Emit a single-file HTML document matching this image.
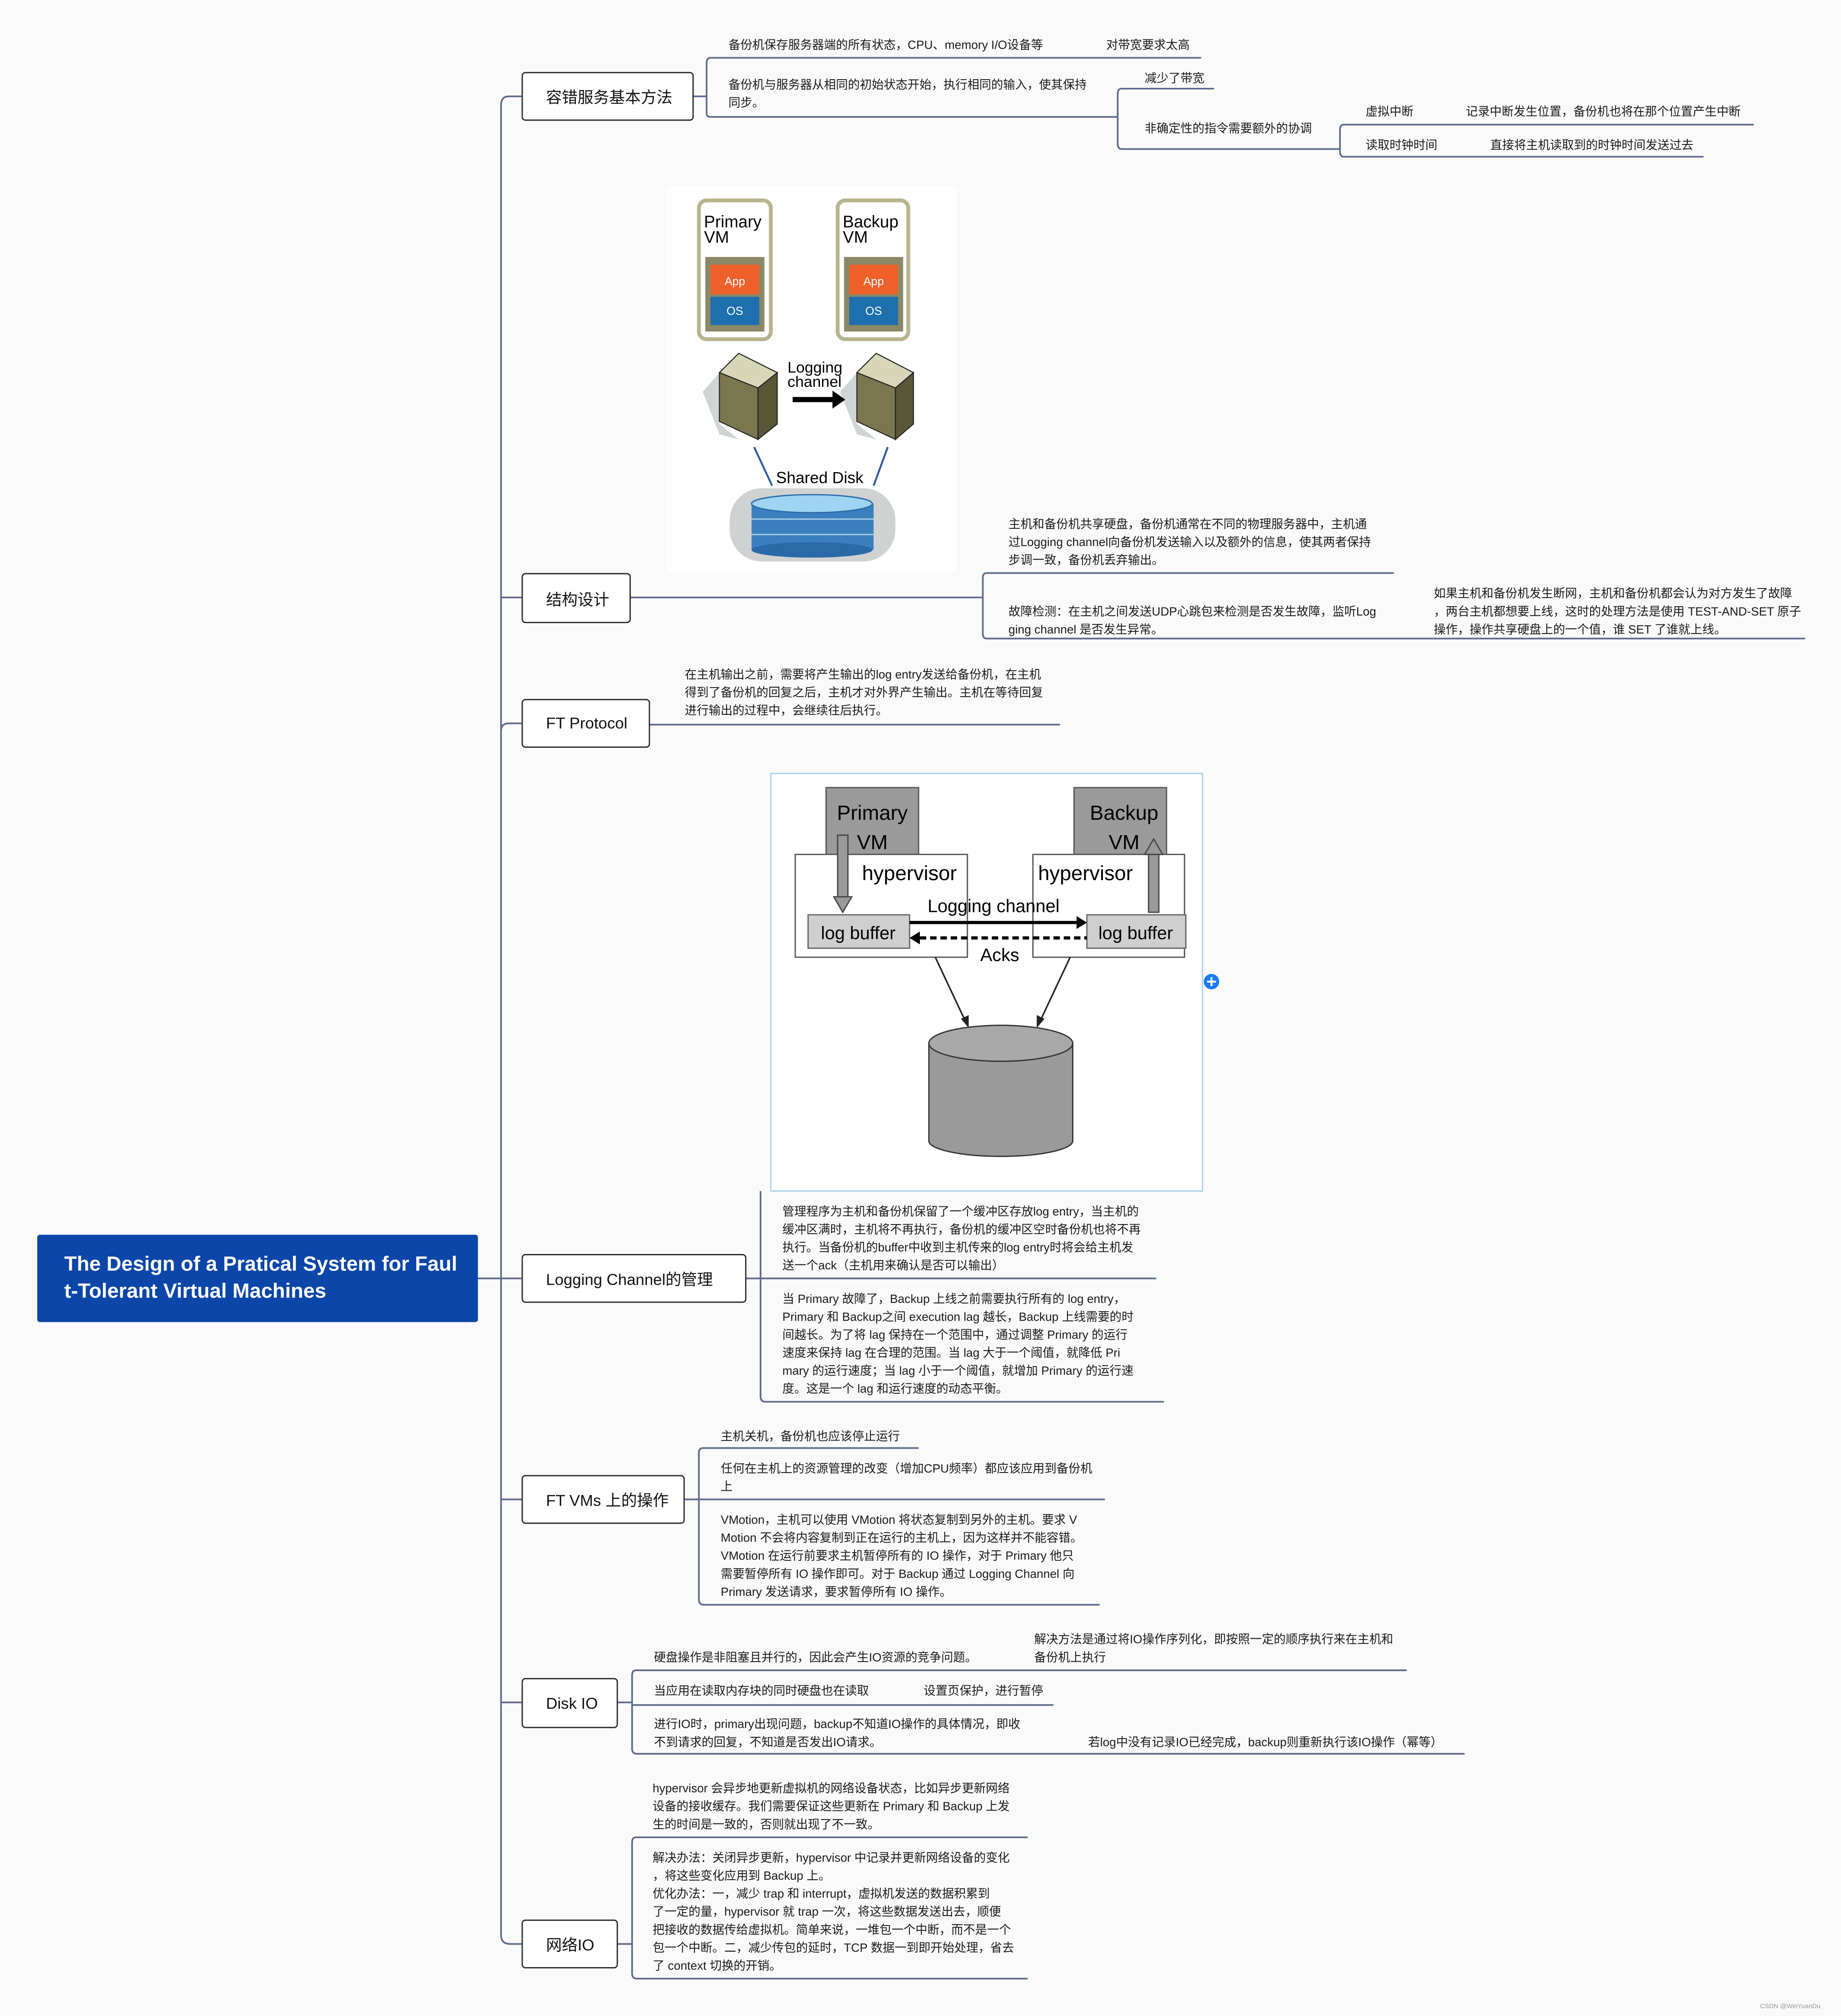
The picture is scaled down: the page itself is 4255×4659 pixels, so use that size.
<!DOCTYPE html>
<html><head><meta charset="utf-8">
<style>
html,body{margin:0;padding:0;background:#fafafa;}
body{width:4255px;height:4656px;overflow:hidden;position:relative;}
#w{position:absolute;left:0;top:0;width:1433px;height:1568px;transform:scale(2.9693);transform-origin:0 0;font-family:"Liberation Sans","Noto Sans CJK SC",sans-serif;color:#222;}
.t{position:absolute;font-size:9.3px;line-height:14px;white-space:nowrap;color:#1a1a1a;}
.n{position:absolute;background:#fff;border:1.6px solid #2a2a2a;border-radius:3px;box-sizing:border-box;font-size:12.3px;display:flex;align-items:center;padding-left:18px;color:#111;}
svg{position:absolute;left:0;top:0;}
</style></head><body><div id="w">
<svg width="1433" height="1568" viewBox="0 0 1433 1568">
<g fill="none" stroke="#5d6b8c" stroke-width="1.3">
<path d="M406,75 H396 Q390,75 390,82 V1506 Q390,1513 397,1513 H406"/>
<path d="M390,465 Q390,465 396,465 H406"/>
<path d="M390,569 Q390,563 396,563 H406"/>
<path d="M390,995 H406"/>
<path d="M372,995 H390"/>
<path d="M390,1167 H406"/>
<path d="M390,1325 H406"/>
<path d="M540,75 H550"/>
<path d="M935,45 H553 Q550,45 550,49 V88 Q550,91 553,91 H870"/>
<path d="M945,69 H873 Q870,69 870,73 V112 Q870,116 873,116 H1043"/>
<path d="M1365,97 H1046 Q1043,97 1043,101 V118 Q1043,122 1046,122 H1326"/>
<path d="M491,465 H765"/>
<path d="M1085,446 H768 Q765,446 765,450 V493 Q765,497 768,497 H1405"/>
<path d="M506,564 H825"/>
<path d="M581,995 H592"/>
<path d="M592,927 V1087 Q592,1091 596,1091 H906"/>
<path d="M592,995 H900"/>
<path d="M533,1167 H544"/>
<path d="M715,1127 H547 Q544,1127 544,1131 V1245 Q544,1249 548,1249 H856"/>
<path d="M544,1167 H860"/>
<path d="M481,1325 H492"/>
<path d="M1095,1300 H495 Q492,1300 492,1304 V1361 Q492,1365 496,1365 H1140"/>
<path d="M492,1327 H820"/>
<path d="M481,1513 H492"/>
<path d="M800,1430 H495 Q492,1430 492,1434 V1536 Q492,1540 496,1540 H800"/>
</g>
<rect x="519" y="145" width="226" height="300" fill="#fefefe"/>
<g>
<rect x="544" y="156" width="56" height="108" rx="6" fill="#fff" stroke="#b8b48e" stroke-width="3"/>
<rect x="549" y="200" width="46" height="58" fill="#8a8866"/>
<rect x="553" y="206" width="38" height="23" fill="#f0602a"/>
<rect x="553" y="231" width="38" height="22" fill="#1d6fae"/>
<text x="572" y="222" font-size="9" fill="#fff" text-anchor="middle" font-family="Liberation Sans">App</text>
<text x="572" y="245" font-size="9" fill="#fff" text-anchor="middle" font-family="Liberation Sans">OS</text>
<text x="548" y="177" font-size="13" font-family="Liberation Sans">Primary</text>
<text x="548" y="189" font-size="13" font-family="Liberation Sans">VM</text>
<rect x="652" y="156" width="55" height="108" rx="6" fill="#fff" stroke="#b8b48e" stroke-width="3"/>
<rect x="657" y="200" width="46" height="58" fill="#8a8866"/>
<rect x="661" y="206" width="38" height="23" fill="#f0602a"/>
<rect x="661" y="231" width="38" height="22" fill="#1d6fae"/>
<text x="680" y="222" font-size="9" fill="#fff" text-anchor="middle" font-family="Liberation Sans">App</text>
<text x="680" y="245" font-size="9" fill="#fff" text-anchor="middle" font-family="Liberation Sans">OS</text>
<text x="656" y="177" font-size="13" font-family="Liberation Sans">Backup</text>
<text x="656" y="189" font-size="13" font-family="Liberation Sans">VM</text>
<polygon points="547,305 560,290 560,330 575,342 560,338" fill="#d0d4d4"/>
<polygon points="560,290 575,275 605,290 590,302" fill="#d8d6b8" stroke="#222" stroke-width="0.8"/>
<polygon points="560,290 590,302 590,342 560,328" fill="#7a7650" stroke="#222" stroke-width="0.8"/>
<polygon points="590,302 605,290 605,330 590,342" fill="#5a5638" stroke="#222" stroke-width="0.8"/>
<polygon points="654,305 667,290 667,330 682,342 667,338" fill="#d0d4d4"/>
<polygon points="667,290 682,275 711,290 697,302" fill="#d8d6b8" stroke="#222" stroke-width="0.8"/>
<polygon points="667,290 697,302 697,342 667,328" fill="#7a7650" stroke="#222" stroke-width="0.8"/>
<polygon points="697,302 711,290 711,330 697,342" fill="#5a5638" stroke="#222" stroke-width="0.8"/>
<text x="613" y="290" font-size="12" font-family="Liberation Sans">Logging</text>
<text x="613" y="301" font-size="12" font-family="Liberation Sans">channel</text>
<path d="M617,311 H648" stroke="#000" stroke-width="4"/>
<polygon points="648,304 658,311 648,318" fill="#000"/>
<path d="M587,348 L601,378 M691,348 L680,378" stroke="#2e5aa8" stroke-width="1.5"/>
<text x="604" y="376" font-size="12.5" font-family="Liberation Sans">Shared Disk</text>
<rect x="568" y="380" width="129" height="57" rx="25" fill="#d0d2d2"/>
<rect x="585" y="392" width="95" height="36" fill="#3a80c0"/>
<ellipse cx="632" cy="428" rx="47" ry="6" fill="#2a6aa8"/>
<ellipse cx="632" cy="392" rx="47" ry="7" fill="#9fd4f2" stroke="#2a6aa8"/>
<path d="M585,404 H680 M585,416 H680" stroke="#a8cce8" stroke-width="1"/>
</g>
<rect x="600" y="602" width="336" height="325" fill="#fff" stroke="#a8d0f0" stroke-width="1"/>
<g font-family="Liberation Sans">
<rect x="643" y="613" width="72" height="52" fill="#9a9a9a" stroke="#555"/>
<text x="679" y="638" font-size="16" text-anchor="middle">Primary</text>
<text x="679" y="661" font-size="16" text-anchor="middle">VM</text>
<rect x="619" y="665" width="134" height="80" fill="#fff" stroke="#555"/>
<text x="671" y="685" font-size="16">hypervisor</text>
<rect x="629" y="712" width="79" height="26" fill="#cfcfcf" stroke="#666"/>
<text x="668" y="731" font-size="14" text-anchor="middle">log buffer</text>
<rect x="836" y="613" width="72" height="52" fill="#9a9a9a" stroke="#555"/>
<text x="875" y="638" font-size="16" text-anchor="middle">Backup</text>
<text x="875" y="661" font-size="16" text-anchor="middle">VM</text>
<rect x="804" y="665" width="118" height="80" fill="#fff" stroke="#555"/>
<text x="808" y="685" font-size="16">hypervisor</text>
<rect x="846" y="712" width="77" height="26" fill="#cfcfcf" stroke="#666"/>
<text x="884" y="731" font-size="14" text-anchor="middle">log buffer</text>
<rect x="652" y="650" width="8" height="48" fill="#999" stroke="#444"/>
<polygon points="649,698 663,698 656,710" fill="#999" stroke="#444"/>
<rect x="894" y="665" width="8" height="45" fill="#999" stroke="#444"/>
<polygon points="891,665 905,665 898,653" fill="#999" stroke="#444"/>
<text x="722" y="710" font-size="14">Logging channel</text>
<path d="M708,718 H838" stroke="#000" stroke-width="2.5"/>
<polygon points="838,713 846,718 838,723" fill="#000"/>
<path d="M716,730 H846" stroke="#000" stroke-width="2.5" stroke-dasharray="5,3"/>
<polygon points="716,725 708,730 716,735" fill="#000"/>
<text x="763" y="748" font-size="14">Acks</text>
<path d="M728,745 L752,796 M833,745 L809,796" stroke="#222" stroke-width="1.2"/>
<polygon points="748,793 754,800 754,790" fill="#222"/>
<polygon points="807,790 807,800 813,793" fill="#222"/>
<path d="M723,812 V888 A56,12 0 0 0 835,888 V812" fill="#9a9a9a" stroke="#333"/>
<ellipse cx="779" cy="812" rx="56" ry="14" fill="#a8a8a8" stroke="#333"/>
</g>
<circle cx="943" cy="764" r="6" fill="#1a7cf0"/>
<path d="M939.5,764 H946.5 M943,760.5 V767.5" stroke="#fff" stroke-width="1.5"/>
</svg>

<div class="n" style="left:29px;top:961px;width:343px;height:68px;background:#0b46a8;border:none;border-radius:2px;color:#fff;font-weight:bold;font-size:16px;line-height:21px;padding-left:21px;">The Design of a Pratical System for Faul<br>t-Tolerant Virtual Machines</div>
<div class="n" style="left:406px;top:56px;width:134px;height:38px;">容错服务基本方法</div>
<div class="n" style="left:406px;top:446px;width:85px;height:39px;">结构设计</div>
<div class="n" style="left:406px;top:544px;width:100px;height:38px;">FT Protocol</div>
<div class="n" style="left:406px;top:976px;width:175px;height:38px;">Logging Channel的管理</div>
<div class="n" style="left:406px;top:1148px;width:127px;height:38px;">FT VMs 上的操作</div>
<div class="n" style="left:406px;top:1306px;width:75px;height:39px;">Disk IO</div>
<div class="n" style="left:406px;top:1494px;width:75px;height:38px;">网络IO</div>

<div class="t" style="left:567px;top:28px;">备份机保存服务器端的所有状态，CPU、memory I/O设备等</div>
<div class="t" style="left:861px;top:28px;">对带宽要求太高</div>
<div class="t" style="left:567px;top:59px;">备份机与服务器从相同的初始状态开始，执行相同的输入，使其保持<br>同步。</div>
<div class="t" style="left:891px;top:54px;">减少了带宽</div>
<div class="t" style="left:891px;top:93px;">非确定性的指令需要额外的协调</div>
<div class="t" style="left:1063px;top:80px;">虚拟中断</div>
<div class="t" style="left:1141px;top:80px;">记录中断发生位置，备份机也将在那个位置产生中断</div>
<div class="t" style="left:1063px;top:106px;">读取时钟时间</div>
<div class="t" style="left:1160px;top:106px;">直接将主机读取到的时钟时间发送过去</div>

<div class="t" style="left:785px;top:401px;">主机和备份机共享硬盘，备份机通常在不同的物理服务器中，主机通<br>过Logging channel向备份机发送输入以及额外的信息，使其两者保持<br>步调一致，备份机丢弃输出。</div>
<div class="t" style="left:785px;top:469px;">故障检测：在主机之间发送UDP心跳包来检测是否发生故障，监听Log<br>ging channel 是否发生异常。</div>
<div class="t" style="left:1116px;top:455px;">如果主机和备份机发生断网，主机和备份机都会认为对方发生了故障<br>，两台主机都想要上线，这时的处理方法是使用 TEST-AND-SET 原子<br>操作，操作共享硬盘上的一个值，谁 SET 了谁就上线。</div>

<div class="t" style="left:533px;top:518px;">在主机输出之前，需要将产生输出的log entry发送给备份机，在主机<br>得到了备份机的回复之后，主机才对外界产生输出。主机在等待回复<br>进行输出的过程中，会继续往后执行。</div>

<div class="t" style="left:609px;top:936px;">管理程序为主机和备份机保留了一个缓冲区存放log entry，当主机的<br>缓冲区满时，主机将不再执行，备份机的缓冲区空时备份机也将不再<br>执行。当备份机的buffer中收到主机传来的log entry时将会给主机发<br>送一个ack（主机用来确认是否可以输出）</div>
<div class="t" style="left:609px;top:1004px;">当 Primary 故障了，Backup 上线之前需要执行所有的 log entry，<br>Primary 和 Backup之间 execution lag 越长，Backup 上线需要的时<br>间越长。为了将 lag 保持在一个范围中，通过调整 Primary 的运行<br>速度来保持 lag 在合理的范围。当 lag 大于一个阈值，就降低 Pri<br>mary 的运行速度；当 lag 小于一个阈值，就增加 Primary 的运行速<br>度。这是一个 lag 和运行速度的动态平衡。</div>

<div class="t" style="left:561px;top:1111px;">主机关机，备份机也应该停止运行</div>
<div class="t" style="left:561px;top:1136px;">任何在主机上的资源管理的改变（增加CPU频率）都应该应用到备份机<br>上</div>
<div class="t" style="left:561px;top:1176px;">VMotion，主机可以使用 VMotion 将状态复制到另外的主机。要求 V<br>Motion 不会将内容复制到正在运行的主机上，因为这样并不能容错。<br>VMotion 在运行前要求主机暂停所有的 IO 操作，对于 Primary 他只<br>需要暂停所有 IO 操作即可。对于 Backup 通过 Logging Channel 向<br>Primary 发送请求，要求暂停所有 IO 操作。</div>

<div class="t" style="left:509px;top:1283px;">硬盘操作是非阻塞且并行的，因此会产生IO资源的竞争问题。</div>
<div class="t" style="left:805px;top:1269px;">解决方法是通过将IO操作序列化，即按照一定的顺序执行来在主机和<br>备份机上执行</div>
<div class="t" style="left:509px;top:1309px;">当应用在读取内存块的同时硬盘也在读取</div>
<div class="t" style="left:719px;top:1309px;">设置页保护，进行暂停</div>
<div class="t" style="left:509px;top:1335px;">进行IO时，primary出现问题，backup不知道IO操作的具体情况，即收<br>不到请求的回复，不知道是否发出IO请求。</div>
<div class="t" style="left:847px;top:1349px;">若log中没有记录IO已经完成，backup则重新执行该IO操作（幂等）</div>

<div class="t" style="left:508px;top:1385px;">hypervisor 会异步地更新虚拟机的网络设备状态，比如异步更新网络<br>设备的接收缓存。我们需要保证这些更新在 Primary 和 Backup 上发<br>生的时间是一致的，否则就出现了不一致。</div>
<div class="t" style="left:508px;top:1439px;">解决办法：关闭异步更新，hypervisor 中记录并更新网络设备的变化<br>，将这些变化应用到 Backup 上。<br>优化办法：一，减少 trap 和 interrupt，虚拟机发送的数据积累到<br>了一定的量，hypervisor 就 trap 一次，将这些数据发送出去，顺便<br>把接收的数据传给虚拟机。简单来说，一堆包一个中断，而不是一个<br>包一个中断。二，减少传包的延时，TCP 数据一到即开始处理，省去<br>了 context 切换的开销。</div>

<div class="t" style="left:1370px;top:1555px;font-size:5px;color:#999;">CSDN @WeiYuanDu</div>
</div></body></html>
